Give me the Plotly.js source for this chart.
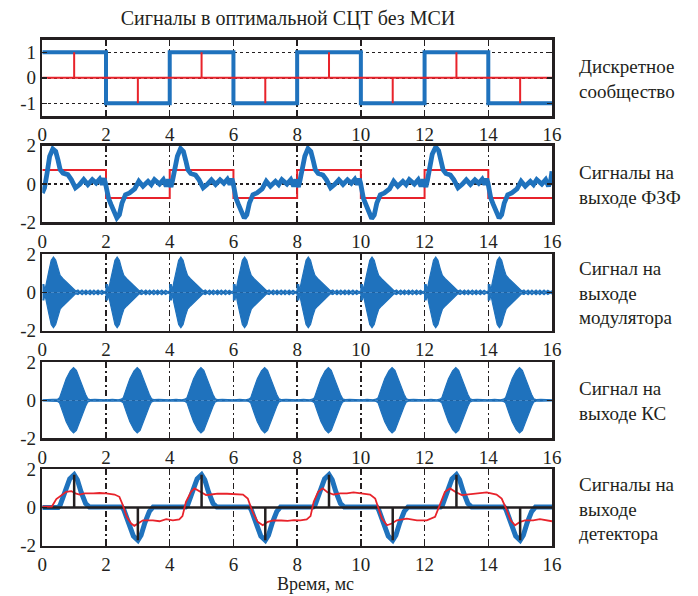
<!DOCTYPE html>
<html><head><meta charset="utf-8">
<script src="https://cdn.plot.ly/plotly-3.0.1.min.js"></script>
<style>html,body{margin:0;padding:0;background:#fff}</style>
</head><body><div id="chart" style="width:698px;height:596px"></div>
<script>
// ---------- data ----------
const xTickVals = [0,2,4,6,8,10,12,14,16];
const xTickText = ['0','2','4','6','8','10','12','14','16'];
const y1TickVals = [-1,0,1];
const y1TickText = ['-1','0','1'];
const yTickVals = [-2,0,2];
const yTickText = ['-2','0','2'];
const timeRange = [0,16];

// panel 1: discrete message
const symbolEdges = [0,2,4,6,8,10,12,14,16];
const symbolLevels = [1,-1,1,-1,1,-1,1,-1,-1];
const sampleTimes = [1,3,5,7,9,11,13,15];
const sampleValues = [1,-1,1,-1,1,-1,1,-1];

// panel 2: shaping filter output
const refLevels = [0.73,-0.73,0.73,-0.73,0.73,-0.73,0.73,-0.73,-0.73];
const ffT = [0.00,0.07,0.15,0.23,0.33,0.42,0.49,0.56,0.65,0.80,0.91,1.04,1.17,1.30,1.43,1.57,1.69,1.80,1.88,1.94,1.98,
  2.03,2.08,2.16,2.27,2.34,2.42,2.50,2.61,2.74,2.90,3.03,3.16,3.32,3.42,3.52,3.68,3.80,3.89,3.96,4.00,
  4.04,4.09,4.16,4.24,4.34,4.43,4.50,4.57,4.66,4.81,4.92,5.05,5.18,5.31,5.44,5.58,5.70,5.81,5.89,5.95,5.99,
  6.03,6.08,6.16,6.27,6.34,6.42,6.50,6.61,6.74,6.90,7.03,7.16,7.32,7.42,7.52,7.68,7.80,7.89,7.96,8.00,
  8.04,8.09,8.16,8.24,8.34,8.43,8.50,8.57,8.66,8.81,8.92,9.05,9.18,9.31,9.44,9.58,9.70,9.81,9.89,9.95,9.99,
  10.03,10.08,10.16,10.27,10.34,10.42,10.50,10.61,10.74,10.90,11.03,11.16,11.32,11.42,11.52,11.68,11.80,11.89,11.96,12.00,
  12.04,12.09,12.16,12.24,12.35,12.44,12.51,12.58,12.67,12.81,12.92,13.05,13.18,13.31,13.44,13.58,13.70,13.81,13.89,13.95,13.99,
  14.03,14.08,14.16,14.27,14.34,14.42,14.50,14.61,14.74,14.90,15.03,15.16,15.32,15.42,15.52,15.68,15.80,15.89,15.96,16.00];
const ffY = [-0.47,-0.20,0.57,1.44,1.83,1.70,1.27,0.75,0.57,0.49,0.23,-0.20,-0.03,0.23,-0.03,0.23,0.05,0.26,-0.03,0.30,0.05,
  -0.35,-0.75,-1.08,-1.51,-1.77,-1.60,-1.00,-0.56,-0.47,-0.26,0.14,-0.12,0.14,-0.03,0.23,0.00,0.23,-0.12,0.23,0.02,
  -0.15,0.20,0.75,1.45,1.85,1.70,1.25,0.75,0.55,0.47,0.22,-0.20,-0.02,0.22,-0.02,0.22,0.04,0.25,-0.02,0.28,0.05,
  -0.35,-0.75,-1.08,-1.51,-1.78,-1.60,-1.00,-0.56,-0.47,-0.26,0.14,-0.12,0.14,-0.03,0.23,0.00,0.23,-0.12,0.23,0.02,
  -0.15,0.20,0.75,1.45,1.85,1.70,1.25,0.75,0.55,0.47,0.22,-0.20,-0.02,0.22,-0.02,0.22,0.04,0.25,-0.02,0.28,0.05,
  -0.35,-0.75,-1.08,-1.51,-1.80,-1.62,-1.00,-0.56,-0.47,-0.26,0.14,-0.12,0.14,-0.03,0.23,0.00,0.23,-0.12,0.23,0.02,
  -0.15,0.20,0.80,1.55,1.93,1.75,1.25,0.75,0.55,0.47,0.22,-0.20,-0.02,0.22,-0.02,0.22,0.04,0.25,-0.02,0.28,0.05,
  -0.35,-0.75,-1.08,-1.51,-1.78,-1.60,-1.00,-0.56,-0.47,-0.26,0.14,-0.12,0.14,-0.03,0.23,0.00,0.23,-0.12,0.20,0.66];

// panel 3: modulator output, burst envelope (one symbol interval) and burst starts
const modOffset = [0.00,0.05,0.08,0.13,0.21,0.28,0.35,0.42,0.49,0.56,0.65,0.75,0.86,0.96,1.05,1.12,1.18,1.25,1.31,1.37,1.43,1.50,1.56,1.62,1.68,1.75,1.81,1.87,1.94,2.00];
const modUpper  = [0.40,0.40,0.10,0.55,1.15,1.68,1.84,1.68,1.24,0.88,0.71,0.55,0.35,0.22,0.07,0.12,0.03,0.12,0.03,0.12,0.03,0.12,0.03,0.12,0.03,0.12,0.03,0.11,0.03,0.08];
const modLower  = [-0.40,-0.40,-0.10,-0.55,-1.15,-1.68,-1.84,-1.68,-1.24,-0.88,-0.71,-0.55,-0.35,-0.22,-0.07,-0.12,-0.03,-0.12,-0.03,-0.12,-0.03,-0.12,-0.03,-0.12,-0.03,-0.12,-0.03,-0.11,-0.03,-0.08];
const modStarts = [0,2,4,6,8,10,12,14];

// panel 4: channel output, burst envelope around each symbol centre
const chOffset = [-1.00,-0.80,-0.62,-0.52,-0.46,-0.35,-0.25,-0.12,-0.02,0.07,0.17,0.27,0.36,0.43,0.50,0.65,0.82,1.00];
const chUpper  = [0.03,0.05,0.03,0.06,0.13,0.67,1.13,1.55,1.72,1.58,1.13,0.67,0.31,0.08,0.04,0.05,0.03,0.03];
const chLower  = [-0.03,-0.05,-0.03,-0.06,-0.13,-0.67,-1.13,-1.55,-1.72,-1.58,-1.13,-0.67,-0.31,-0.08,-0.04,-0.05,-0.03,-0.03];
const chCenters = [1,3,5,7,9,11,13,15];

// panel 5: detector output
const detT = [0.00,0.50,0.56,0.70,0.86,1.00,1.10,1.22,1.36,1.48,
  2.50,2.56,2.70,2.86,3.00,3.10,3.22,3.36,3.48,
  4.50,4.56,4.70,4.86,5.00,5.10,5.22,5.36,5.48,
  6.50,6.56,6.70,6.86,7.00,7.10,7.22,7.36,7.48,
  8.50,8.56,8.70,8.86,9.00,9.10,9.22,9.36,9.48,
  10.50,10.56,10.70,10.86,11.00,11.10,11.22,11.36,11.48,
  12.50,12.56,12.70,12.86,13.00,13.10,13.22,13.36,13.48,
  14.50,14.56,14.70,14.86,15.00,15.10,15.22,15.36,15.48,16.00];
const detY = [0.00,0.00,0.12,0.85,1.50,1.72,1.45,0.80,0.21,0.02,
  0.02,-0.12,-0.85,-1.50,-1.72,-1.45,-0.80,-0.21,0.03,
  0.03,0.12,0.85,1.50,1.72,1.45,0.80,0.21,0.02,
  0.02,-0.12,-0.85,-1.50,-1.72,-1.45,-0.80,-0.21,0.03,
  0.03,0.12,0.85,1.50,1.72,1.45,0.80,0.21,0.02,
  0.02,-0.12,-0.85,-1.50,-1.72,-1.45,-0.80,-0.21,0.03,
  0.03,0.12,0.85,1.50,1.72,1.45,0.80,0.21,0.02,
  0.02,-0.12,-0.85,-1.50,-1.72,-1.45,-0.80,-0.21,0.02,0.02];
const intT = [0.00,0.30,0.44,0.60,0.75,0.91,1.04,1.17,1.33,1.60,1.80,2.00,2.27,2.42,2.53,2.65,2.79,2.89,2.99,3.16,3.47,3.68,3.89,4.10,4.30,4.40,4.51,4.67,4.78,4.93,5.14,5.30,5.50,5.80,6.00,6.30,6.45,6.60,6.76,6.92,7.08,7.25,7.50,7.70,7.90,8.10,8.30,8.42,8.52,8.66,8.80,8.95,9.14,9.35,9.56,9.77,10.00,10.29,10.45,10.55,10.66,10.82,10.97,11.13,11.44,11.76,12.07,12.33,12.49,12.64,12.80,12.96,13.17,13.32,13.64,13.95,14.26,14.42,14.58,14.70,14.84,15.00,15.15,15.41,15.62,15.83,16.00];
const intY = [0.05,0.05,0.44,0.65,0.82,0.86,0.74,0.68,0.74,0.74,0.76,0.74,0.68,0.56,0.12,-0.49,-0.84,-0.96,-0.84,-0.67,-0.67,-0.72,-0.61,-0.67,-0.62,-0.45,0.30,0.82,1.00,0.86,0.65,0.68,0.73,0.72,0.70,0.68,0.47,-0.23,-0.75,-0.93,-0.75,-0.67,-0.68,-0.70,-0.66,-0.67,-0.62,-0.45,0.30,0.82,1.00,0.80,0.68,0.74,0.74,0.79,0.74,0.68,0.47,-0.05,-0.58,-0.93,-0.84,-0.67,-0.58,-0.67,-0.67,-0.49,0.21,0.82,1.00,0.82,0.65,0.68,0.74,0.79,0.68,0.47,-0.14,-0.67,-0.93,-0.75,-0.67,-0.67,-0.61,-0.67,-0.72];
const decisionValues = [1.72,-1.72,1.72,-1.72,1.72,-1.72,1.72,-1.72];

const rowLabels = ['Дискретное<br>сообщество','Сигналы на<br>выходе ФЗФ','Сигнал на<br>выходе<br>модулятора','Сигнал на<br>выходе КС','Сигналы на<br>выходе<br>детектора'];

// ---------- styling ----------
const BLUE = '#1f72bd', RED = '#e8232b', INK = '#231f20';
const FONT = 'Times New Roman, Tinos, Liberation Serif, DejaVu Serif, Noto Serif, serif';
const W = 698, H = 596;
const xDom = [42.3/W, 552/W];
const rows = [[39.5,116],[145.7,222.3],[254,330.7],[362.3,438.3],[469.3,545.7]];

function stems(ts, vs){
  const x=[], y=[];
  ts.forEach((t,i)=>{x.push(t,t,null); y.push(0,vs[i],null);});
  return {x,y};
}
function tile(centers, off, vals){
  const x=[], y=[];
  centers.forEach(c=>{off.forEach((o,i)=>{x.push(c+o); y.push(vals[i]);});});
  return {x,y};
}

const traces = [];
// panel 1
traces.push({x:symbolEdges, y:symbolLevels, mode:'lines', line:{color:BLUE,width:4,shape:'hv'}, xaxis:'x', yaxis:'y'});
traces.push({x:timeRange, y:[0,0], mode:'lines', line:{color:RED,width:2}, xaxis:'x', yaxis:'y'});
const s1 = stems(sampleTimes, sampleValues);
traces.push({x:s1.x, y:s1.y, mode:'lines', line:{color:RED,width:2}, xaxis:'x', yaxis:'y'});
// panel 2
traces.push({x:symbolEdges, y:refLevels, mode:'lines', line:{color:RED,width:2,shape:'hv'}, xaxis:'x2', yaxis:'y2'});
traces.push({x:ffT, y:ffY, mode:'lines', line:{color:BLUE,width:4.8}, xaxis:'x2', yaxis:'y2'});
// panel 3
const mu = tile(modStarts, modOffset, modUpper), ml = tile(modStarts, modOffset, modLower);
traces.push({x:mu.x, y:mu.y, mode:'lines', fill:'tozeroy', fillcolor:BLUE, line:{color:BLUE,width:1.2}, xaxis:'x3', yaxis:'y3'});
traces.push({x:ml.x, y:ml.y, mode:'lines', fill:'tozeroy', fillcolor:BLUE, line:{color:BLUE,width:1.2}, xaxis:'x3', yaxis:'y3'});
// panel 4
const cu = tile(chCenters, chOffset, chUpper), cl = tile(chCenters, chOffset, chLower);
traces.push({x:cu.x, y:cu.y, mode:'lines', fill:'tozeroy', fillcolor:BLUE, line:{color:BLUE,width:1.2}, xaxis:'x4', yaxis:'y4'});
traces.push({x:cl.x, y:cl.y, mode:'lines', fill:'tozeroy', fillcolor:BLUE, line:{color:BLUE,width:1.2}, xaxis:'x4', yaxis:'y4'});
// panel 5
traces.push({x:detT, y:detY, mode:'lines', line:{color:BLUE,width:5}, xaxis:'x5', yaxis:'y5'});
traces.push({x:timeRange, y:[0,0], mode:'lines', line:{color:INK,width:2.5}, xaxis:'x5', yaxis:'y5'});
traces.push({x:intT, y:intY, mode:'lines', line:{color:RED,width:1.8}, xaxis:'x5', yaxis:'y5'});
const s5 = stems(sampleTimes, decisionValues);
traces.push({x:s5.x, y:s5.y, mode:'lines', line:{color:INK,width:2.5}, xaxis:'x5', yaxis:'y5'});

const layout = {
  width:W, height:H, margin:{l:0,r:0,t:0,b:0}, showlegend:false,
  paper_bgcolor:'#fff', plot_bgcolor:'#fff',
  font:{family:FONT, color:INK, size:18},
  title:{text:'Сигналы в оптимальной СЦТ без МСИ', x:288/W, xanchor:'center', y:1-18/H, yanchor:'middle', font:{family:FONT,size:20,color:INK}},
  annotations:[]
};
rows.forEach((r,i)=>{
  const n = i+1, sfx = n===1?'':String(n);
  const dom = [1-r[1]/H, 1-r[0]/H];
  layout['xaxis'+sfx] = {domain:xDom, range:timeRange, anchor:'y'+sfx, tickvals:xTickVals, ticktext:xTickText,
    ticks:'inside', ticklen:5, tickwidth:1.5, tickcolor:INK, showline:true, mirror:'ticks', linewidth:2.5, linecolor:INK,
    showgrid:true, gridcolor:INK, gridwidth:1.3, griddash:'6px,3px,2px,3px', zeroline:false,
    tickfont:{family:FONT,size:19,color:INK}, fixedrange:true};
  layout['yaxis'+sfx] = {domain:dom, range:n===1?[-1.5,1.5]:[-2,2], anchor:'x'+sfx,
    tickvals:n===1?y1TickVals:yTickVals, ticktext:n===1?y1TickText:yTickText,
    ticks:'inside', ticklen:5, tickwidth:1.5, tickcolor:INK, showline:true, mirror:'ticks', linewidth:2.5, linecolor:INK,
    showgrid:n!==5, gridcolor:INK, gridwidth:1.5, griddash:'3px,3px', zeroline:false,
    tickfont:{family:FONT,size:19,color:INK}, fixedrange:true};
  layout.annotations.push({text:rowLabels[i], xref:'paper', yref:'paper', x:577/W, y:1-((r[0]+r[1])/2+1)/H,
    xanchor:'left', yanchor:'middle', align:'left', showarrow:false, font:{family:FONT,size:19,color:INK}});
});
layout.annotations.push({text:'Время, мс', xref:'paper', yref:'paper', x:315/W, y:1-584/H, xanchor:'center', yanchor:'middle',
  showarrow:false, font:{family:FONT,size:18,color:INK}});

Plotly.newPlot('chart', traces, layout, {displayModeBar:false, staticPlot:true});
</script></body></html>
